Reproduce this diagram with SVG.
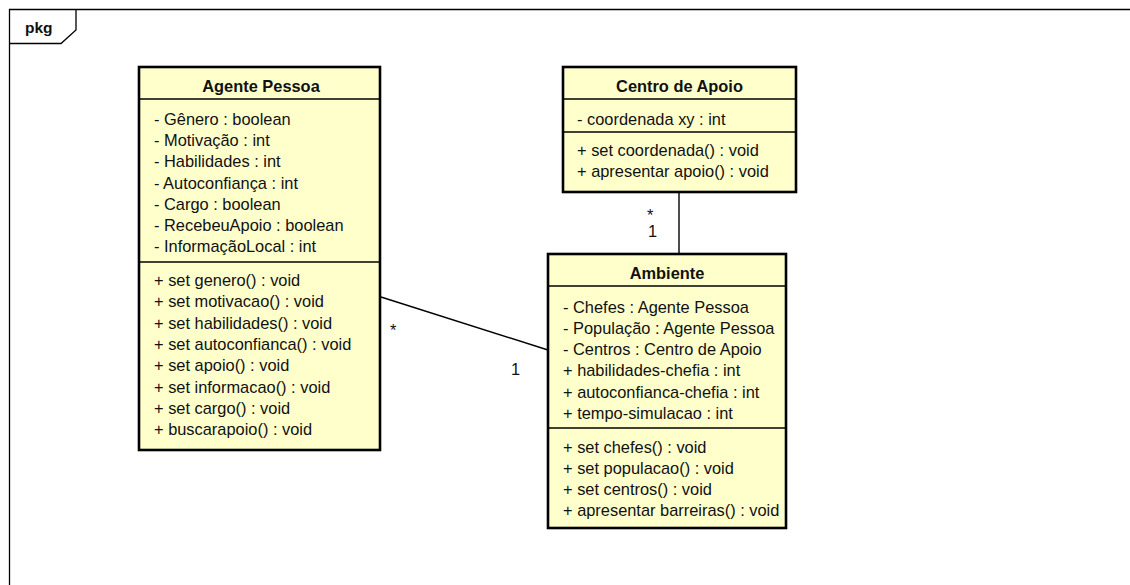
<svg xmlns="http://www.w3.org/2000/svg" width="1130" height="585" viewBox="0 0 1130 585">
<style>
.box{fill:#FFFFCC;stroke:#000;stroke-width:2.6}
.sep{stroke:#000;stroke-width:1.3;fill:none}
.t{font-family:"Liberation Sans",Arial,sans-serif;font-size:16.4px;fill:#111}
.h{font-family:"Liberation Sans",Arial,sans-serif;font-size:16.4px;font-weight:bold;fill:#111;text-anchor:middle}
.c{stroke:#000;stroke-width:1.4;fill:none}
</style>
<rect width="1130" height="585" fill="#fff"/>
<g id="frame">
<path d="M9.5 585 V9.5 H1130" fill="none" stroke="#000" stroke-width="1.3"/>
<path d="M9.5 43.5 H61 L76 30 V9.5" fill="none" stroke="#000" stroke-width="1.3"/>
<text x="25" y="33" font-family="Liberation Sans,Arial,sans-serif" font-size="15.5" font-weight="bold" fill="#111">pkg</text>
</g>
<g id="connectors">
<line class="c" x1="381" y1="297" x2="548" y2="350"/>
<line class="c" x1="679" y1="192" x2="679" y2="254"/>
<text class="t" x="390" y="336" font-size="13">*</text>
<text class="t" x="511" y="375">1</text>
<text class="t" x="647" y="221" font-size="12">*</text>
<text class="t" x="648" y="237">1</text>
</g>
<g id="agente-pessoa">
<rect class="box" x="139" y="67" width="241" height="383"/>
<line class="sep" x1="139" y1="99" x2="380" y2="99"/>
<line class="sep" x1="139" y1="262" x2="380" y2="262"/>
<text class="h" x="261" y="92">Agente Pessoa</text>
<text class="t" x="154" y="125">- Gênero : boolean</text>
<text class="t" x="154" y="146.2">- Motivação : int</text>
<text class="t" x="154" y="167.4">- Habilidades : int</text>
<text class="t" x="154" y="188.6">- Autoconfiança : int</text>
<text class="t" x="154" y="209.8">- Cargo : boolean</text>
<text class="t" x="154" y="231">- RecebeuApoio : boolean</text>
<text class="t" x="154" y="252.2">- InformaçãoLocal : int</text>
<text class="t" x="154" y="286">+ set genero() : void</text>
<text class="t" x="154" y="307.3">+ set motivacao() : void</text>
<text class="t" x="154" y="328.6">+ set habilidades() : void</text>
<text class="t" x="154" y="349.9">+ set autoconfianca() : void</text>
<text class="t" x="154" y="371.2">+ set apoio() : void</text>
<text class="t" x="154" y="392.5">+ set informacao() : void</text>
<text class="t" x="154" y="413.8">+ set cargo() : void</text>
<text class="t" x="154" y="435.1">+ buscarapoio() : void</text>
</g>
<g id="centro-de-apoio">
<rect class="box" x="563" y="67" width="233" height="125"/>
<line class="sep" x1="563" y1="99" x2="796" y2="99"/>
<line class="sep" x1="563" y1="132" x2="796" y2="132"/>
<text class="h" x="679.5" y="91.5">Centro de Apoio</text>
<text class="t" x="577" y="124.5">- coordenada xy : int</text>
<text class="t" x="577" y="155.5">+ set coordenada() : void</text>
<text class="t" x="577" y="177">+ apresentar apoio() : void</text>
</g>
<g id="ambiente">
<rect class="box" x="548" y="254" width="238" height="274"/>
<line class="sep" x1="548" y1="286" x2="786" y2="286"/>
<line class="sep" x1="548" y1="428" x2="786" y2="428"/>
<text class="h" x="667" y="279">Ambiente</text>
<text class="t" x="563" y="313">- Chefes : Agente Pessoa</text>
<text class="t" x="563" y="334">- População : Agente Pessoa</text>
<text class="t" x="563" y="355">- Centros : Centro de Apoio</text>
<text class="t" x="563" y="376">+ habilidades-chefia : int</text>
<text class="t" x="563" y="397.5">+ autoconfianca-chefia : int</text>
<text class="t" x="563" y="419">+ tempo-simulacao : int</text>
<text class="t" x="563" y="452.5">+ set chefes() : void</text>
<text class="t" x="563" y="473.5">+ set populacao() : void</text>
<text class="t" x="563" y="494.5">+ set centros() : void</text>
<text class="t" x="563" y="516">+ apresentar barreiras() : void</text>
</g>
</svg>
